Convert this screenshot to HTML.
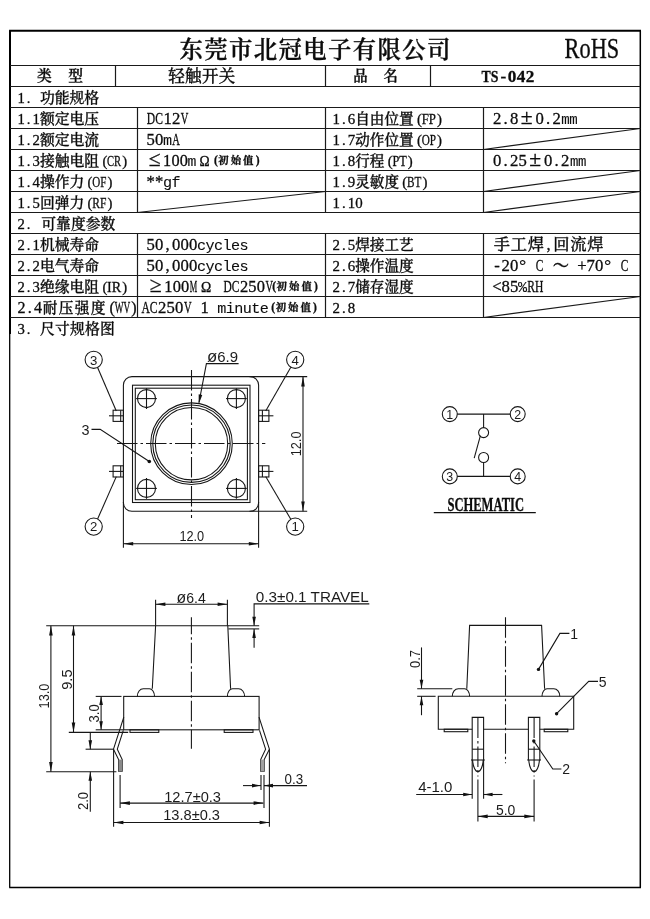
<!DOCTYPE html>
<html lang="zh-CN">
<head>
<meta charset="utf-8">
<title>TS-042 轻触开关 规格书</title>
<style>
html,body{margin:0;padding:0;background:#fff;}
body{width:650px;height:919px;overflow:hidden;font-family:"Liberation Serif","Noto Serif CJK SC",serif;}
svg{display:block;position:absolute;left:0;top:0;will-change:transform;}
text{fill:#0c0c0c;stroke:#0c0c0c;stroke-width:0.3px;font-family:"Liberation Serif","Noto Serif CJK SC",serif;}
.c{font-family:"Liberation Serif","Noto Serif CJK SC","Noto Serif CJK JP",serif;font-weight:500;}
.s{font-family:"Liberation Serif","Noto Serif CJK SC",serif;}
.m{font-family:"Liberation Mono","Noto Serif CJK SC",monospace;stroke-width:0.1px;}
.d{font-family:"Liberation Sans","Noto Sans CJK SC",sans-serif;fill:#1c1c1c;stroke:none;}
</style>
</head>
<body>
<svg width="650" height="919" viewBox="0 0 650 919">
<g stroke="#1a1a1a" stroke-width="1.2" fill="none">
<line x1="9.1" y1="30.8" x2="641" y2="30.8" stroke-width="2.1" stroke="#000"/>
<line x1="9.2" y1="887.4" x2="641" y2="887.4" stroke-width="1.5" stroke="#000"/>
<line x1="640.3" y1="30.6" x2="640.3" y2="887.4" stroke-width="1.5" stroke="#000"/>
<line x1="10" y1="30.6" x2="10" y2="334" stroke-width="2" stroke="#000"/>
<line x1="9.7" y1="334" x2="9.7" y2="887.4" stroke-width="1.3" stroke="#000"/>
<line x1="10" y1="65.5" x2="640.3" y2="65.5"/>
<line x1="10" y1="86.5" x2="640.3" y2="86.5"/>
<line x1="10" y1="107.5" x2="640.3" y2="107.5"/>
<line x1="10" y1="128.5" x2="640.3" y2="128.5"/>
<line x1="10" y1="149.5" x2="640.3" y2="149.5"/>
<line x1="10" y1="170.5" x2="640.3" y2="170.5"/>
<line x1="10" y1="191.5" x2="640.3" y2="191.5"/>
<line x1="10" y1="212.5" x2="640.3" y2="212.5"/>
<line x1="10" y1="233.5" x2="640.3" y2="233.5"/>
<line x1="10" y1="254.5" x2="640.3" y2="254.5"/>
<line x1="10" y1="275.5" x2="640.3" y2="275.5"/>
<line x1="10" y1="296.5" x2="640.3" y2="296.5"/>
<line x1="10" y1="317.5" x2="640.3" y2="317.5"/>
<line x1="115.5" y1="65.5" x2="115.5" y2="86.5"/>
<line x1="325.5" y1="65.5" x2="325.5" y2="86.5"/>
<line x1="430.5" y1="65.5" x2="430.5" y2="86.5"/>
<line x1="137.5" y1="107.5" x2="137.5" y2="212.5"/>
<line x1="325.5" y1="107.5" x2="325.5" y2="212.5"/>
<line x1="483.5" y1="107.5" x2="483.5" y2="212.5"/>
<line x1="137.5" y1="233.5" x2="137.5" y2="317.5"/>
<line x1="325.5" y1="233.5" x2="325.5" y2="317.5"/>
<line x1="483.5" y1="233.5" x2="483.5" y2="317.5"/>
<line x1="137.5" y1="212.5" x2="325.5" y2="191.5"/>
<line x1="483.5" y1="149.5" x2="640.3" y2="128.5"/>
<line x1="483.5" y1="191.5" x2="640.3" y2="170.5"/>
<line x1="483.5" y1="212.5" x2="640.3" y2="191.5"/>
<line x1="483.5" y1="317.5" x2="640.3" y2="296.5"/>
</g>
<text y="57.5"><tspan class="c" font-size="23.4" x="179.58 204.33 229.08 253.83 278.57 303.32 328.07 352.82 377.57 402.32 427.07" style="font-weight:600">东莞市北冠电子有限公司</tspan></text>
<text class="s" x="564.6" y="58.4" font-size="28.4" textLength="54.6" lengthAdjust="spacingAndGlyphs">RoHS</text>
<text y="81.1"><tspan class="c" font-size="14.8" x="37.1" style="font-weight:600">类</tspan></text>
<text y="81.1"><tspan class="c" font-size="14.8" x="68.3" style="font-weight:600">型</tspan></text>
<text y="81.5"><tspan class="c" font-size="16.6" x="168.15 185.05 201.95 218.85">轻触开关</tspan></text>
<text y="81.1"><tspan class="c" font-size="14.4" x="353.3" style="font-weight:600">品</tspan></text>
<text y="81.1"><tspan class="c" font-size="14.4" x="383.6" style="font-weight:600">名</tspan></text>
<text y="81.8" font-weight="700"><tspan class="s" font-size="17.2" x="481.45" textLength="16.9" lengthAdjust="spacingAndGlyphs">TS</tspan><tspan class="s" font-size="17.2" x="500.39 507.85 516.75 525.65">-042</tspan></text>
<text y="102.7"><tspan class="s" font-size="14.7" x="17.47 26.81 34.31">1. </tspan><tspan class="c" font-size="14.8" x="39.9 54.7 69.5 84.3">功能规格</tspan></text>
<text y="123.7"><tspan class="s" font-size="14.7" x="17.47 26.81 32.48">1.1</tspan><tspan class="c" font-size="14.8" x="39.9 54.7 69.5 84.3">额定电压</tspan></text>
<text y="144.7"><tspan class="s" font-size="14.7" x="17.47 26.81 32.48">1.2</tspan><tspan class="c" font-size="14.8" x="39.9 54.7 69.5 84.3">额定电流</tspan></text>
<text y="165.7"><tspan class="s" font-size="14.7" x="17.47 26.81 32.48">1.3</tspan><tspan class="c" font-size="14.8" x="39.9 54.7 69.5 84.3">接触电阻</tspan><tspan class="s" font-size="14.7" x="102.4">(</tspan><tspan class="s" font-size="14.7" x="107.05" textLength="14.1" lengthAdjust="spacingAndGlyphs">CR</tspan><tspan class="s" font-size="14.7" x="122.2">)</tspan></text>
<text y="186.7"><tspan class="s" font-size="14.7" x="17.47 26.81 32.48">1.4</tspan><tspan class="c" font-size="14.8" x="39.9 54.7 69.5">操作力</tspan><tspan class="s" font-size="14.7" x="87.6">(</tspan><tspan class="s" font-size="14.7" x="92.25" textLength="14.1" lengthAdjust="spacingAndGlyphs">OF</tspan><tspan class="s" font-size="14.7" x="107.4">)</tspan></text>
<text y="207.7"><tspan class="s" font-size="14.7" x="17.47 26.81 32.48">1.5</tspan><tspan class="c" font-size="14.8" x="39.9 54.7 69.5">回弹力</tspan><tspan class="s" font-size="14.7" x="87.6">(</tspan><tspan class="s" font-size="14.7" x="92.25" textLength="14.1" lengthAdjust="spacingAndGlyphs">RF</tspan><tspan class="s" font-size="14.7" x="107.4">)</tspan></text>
<text y="228.7"><tspan class="s" font-size="14.7" x="17.47 26.81">2.</tspan></text>
<text y="228.7"><tspan class="c" font-size="14.8" x="41.3 56.1 70.9 85.7 100.5">可靠度参数</tspan></text>
<text y="249.7"><tspan class="s" font-size="14.7" x="17.47 26.81 32.48">2.1</tspan><tspan class="c" font-size="14.8" x="39.9 54.7 69.5 84.3">机械寿命</tspan></text>
<text y="270.7"><tspan class="s" font-size="14.7" x="17.47 26.81 32.48">2.2</tspan><tspan class="c" font-size="14.8" x="39.9 54.7 69.5 84.3">电气寿命</tspan></text>
<text y="291.7"><tspan class="s" font-size="14.7" x="17.47 26.81 32.48">2.3</tspan><tspan class="c" font-size="14.8" x="39.9 54.7 69.5 84.3">绝缘电阻</tspan><tspan class="s" font-size="14.7" x="102.4">(</tspan><tspan class="s" font-size="14.7" x="107.05" textLength="14.1" lengthAdjust="spacingAndGlyphs">IR</tspan><tspan class="s" font-size="14.7" x="122.2">)</tspan></text>
<text y="312.7"><tspan class="s" font-size="16.07" x="17.48 27.69 33.88">2.4</tspan><tspan class="c" font-size="14.7" x="42.65 58.65 74.65 90.65">耐压强度</tspan><tspan class="s" font-size="16.07" x="109.42">(</tspan><tspan class="s" font-size="16.07" x="114.65" textLength="15.5" lengthAdjust="spacingAndGlyphs">WV</tspan><tspan class="s" font-size="16.07" x="131.32">)</tspan></text>
<text y="333.7"><tspan class="s" font-size="14.7" x="17.47 26.81">3.</tspan></text>
<text y="333.7"><tspan class="c" font-size="14.8" x="40.1 55.1 70.1 85.1 100.1">尺寸规格图</tspan></text>
<text y="124.1"><tspan class="s" font-size="16.66" x="146.85" textLength="16.1" lengthAdjust="spacingAndGlyphs">DC</tspan><tspan class="s" font-size="16.66" x="163.49 171.99">12</tspan><tspan class="s" font-size="16.66" x="180.85" textLength="7.6" lengthAdjust="spacingAndGlyphs">V</tspan></text>
<text y="145.1"><tspan class="s" font-size="16.66" x="146.49 154.99">50</tspan><tspan class="m" font-size="15.13" x="163.11">m</tspan><tspan class="s" font-size="16.66" x="172.35" textLength="7.6" lengthAdjust="spacingAndGlyphs">A</tspan></text>
<text y="166.1"><tspan class="s" font-size="21.58" x="148.78">≤</tspan><tspan class="s" font-size="16.27" x="163.08 171.38 179.68">100</tspan><tspan class="m" font-size="14.77" x="187.62">m</tspan><tspan class="s" font-size="13.61" x="199.44">Ω</tspan></text>
<text y="164.3" font-weight="700" font-size="10.4"><tspan class="s" font-size="11.5" x="213.9">(</tspan><tspan class="c" style="font-weight:700" x="218.3 230.7 243.1">初始值</tspan><tspan class="s" font-size="11.5" x="255.7">)</tspan></text>
<text y="187.1"><tspan class="s" font-size="16.66" x="146.49 154.99">**</tspan><tspan class="m" font-size="15.13" x="163.11 171.61">gf</tspan></text>
<text y="250.1"><tspan class="s" font-size="16.66" x="146.49 154.99 165.57 171.99 180.49 188.99">50,000</tspan><tspan class="m" font-size="15.13" x="197.11 205.61 214.11 222.61 231.11 239.61">cycles</tspan></text>
<text y="271.1"><tspan class="s" font-size="16.66" x="146.49 154.99 165.57 171.99 180.49 188.99">50,000</tspan><tspan class="m" font-size="15.13" x="197.11 205.61 214.11 222.61 231.11 239.61">cycles</tspan></text>
<text y="292.1"><tspan class="s" font-size="21.84" x="149.8">≥</tspan><tspan class="s" font-size="16.46" x="164.28 172.68 181.08">100</tspan><tspan class="s" font-size="16.46" x="189.85" textLength="7.5" lengthAdjust="spacingAndGlyphs">M</tspan><tspan class="s" font-size="13.78" x="201.08">Ω</tspan></text>
<text y="292.1"><tspan class="s" font-size="16.46" x="223.45" textLength="15.9" lengthAdjust="spacingAndGlyphs">DC</tspan><tspan class="s" font-size="16.46" x="239.88 248.28 256.68">250</tspan><tspan class="s" font-size="16.46" x="265.45" textLength="7.5" lengthAdjust="spacingAndGlyphs">V</tspan></text>
<text y="290.3" font-weight="700" font-size="10.4"><tspan class="s" font-size="11.5" x="272.2">(</tspan><tspan class="c" style="font-weight:700" x="276.6 289 301.4">初始值</tspan><tspan class="s" font-size="11.5" x="314">)</tspan></text>
<text y="313.1"><tspan class="s" font-size="16.66" x="141.45" textLength="16.1" lengthAdjust="spacingAndGlyphs">AC</tspan><tspan class="s" font-size="16.66" x="158.09 166.59 175.09">250</tspan><tspan class="s" font-size="16.66" x="183.95" textLength="7.6" lengthAdjust="spacingAndGlyphs">V</tspan><tspan class="s" font-size="16.66" x="194.17 200.59 211.17"> 1 </tspan><tspan class="m" font-size="15.13" x="217.21 225.71 234.21 242.71 251.21 259.71">minute</tspan></text>
<text y="311.3" font-weight="700" font-size="10.4"><tspan class="s" font-size="11.5" x="271.3">(</tspan><tspan class="c" style="font-weight:700" x="275.7 288.1 300.5">初始值</tspan><tspan class="s" font-size="11.5" x="313.1">)</tspan></text>
<text y="123.7"><tspan class="s" font-size="14.9" x="332.48 341.94 347.68">1.6</tspan><tspan class="c" font-size="14.6" x="355.2 369.8 384.4 399">自由位置</tspan><tspan class="s" font-size="14.9" x="416.92">(</tspan><tspan class="s" font-size="14.9" x="421.65" textLength="14.3" lengthAdjust="spacingAndGlyphs">FP</tspan><tspan class="s" font-size="14.9" x="437.02">)</tspan></text>
<text y="144.7"><tspan class="s" font-size="14.9" x="332.48 341.94 347.68">1.7</tspan><tspan class="c" font-size="14.6" x="355.2 369.8 384.4 399">动作位置</tspan><tspan class="s" font-size="14.9" x="416.92">(</tspan><tspan class="s" font-size="14.9" x="421.65" textLength="14.3" lengthAdjust="spacingAndGlyphs">OP</tspan><tspan class="s" font-size="14.9" x="437.02">)</tspan></text>
<text y="165.7"><tspan class="s" font-size="14.9" x="332.48 341.94 347.68">1.8</tspan><tspan class="c" font-size="14.6" x="355.2 369.8">行程</tspan><tspan class="s" font-size="14.9" x="387.72">(</tspan><tspan class="s" font-size="14.9" x="392.45" textLength="14.3" lengthAdjust="spacingAndGlyphs">PT</tspan><tspan class="s" font-size="14.9" x="407.82">)</tspan></text>
<text y="186.7"><tspan class="s" font-size="14.9" x="332.48 341.94 347.68">1.9</tspan><tspan class="c" font-size="14.6" x="355.2 369.8 384.4">灵敏度</tspan><tspan class="s" font-size="14.9" x="402.32">(</tspan><tspan class="s" font-size="14.9" x="407.05" textLength="14.3" lengthAdjust="spacingAndGlyphs">BT</tspan><tspan class="s" font-size="14.9" x="422.42">)</tspan></text>
<text y="207.7"><tspan class="s" font-size="14.9" x="332.48 341.94 347.68 355.28">1.10</tspan></text>
<text y="249.7"><tspan class="s" font-size="14.9" x="332.48 341.94 347.68">2.5</tspan><tspan class="c" font-size="14.6" x="355.2 369.8 384.4 399">焊接工艺</tspan></text>
<text y="270.7"><tspan class="s" font-size="14.9" x="332.48 341.94 347.68">2.6</tspan><tspan class="c" font-size="14.6" x="355.2 369.8 384.4 399">操作温度</tspan></text>
<text y="291.7"><tspan class="s" font-size="14.9" x="332.48 341.94 347.68">2.7</tspan><tspan class="c" font-size="14.6" x="355.2 369.8 384.4 399">储存湿度</tspan></text>
<text y="312.7"><tspan class="s" font-size="14.9" x="332.48 341.94 347.68">2.8</tspan></text>
<text y="124.1"><tspan class="s" font-size="16.66" x="492.88 503.47 509.88">2.8</tspan><tspan class="s" font-size="21.59" x="520.87">±</tspan><tspan class="s" font-size="16.66" x="535.38 545.97 552.38">0.2</tspan></text>
<text y="124.1"><tspan class="m" font-size="14" x="561.35 569.25">mm</tspan></text>
<text y="166.1"><tspan class="s" font-size="16.66" x="492.88 503.47 509.88 518.38">0.25</tspan><tspan class="s" font-size="21.59" x="529.37">±</tspan><tspan class="s" font-size="16.66" x="543.88 554.47 560.88">0.2</tspan></text>
<text y="166.1"><tspan class="m" font-size="14" x="570.05 577.95">mm</tspan></text>
<text y="250.1"><tspan class="c" font-size="16.3" x="493.75 510.75 527.75">手工焊</tspan><tspan class="s" font-size="16.66" x="546.57">,</tspan><tspan class="c" font-size="16.3" x="553.25 570.25 587.25">回流焊</tspan></text>
<text y="271.1"><tspan class="s" font-size="16.66" x="494.28 501.38 509.88">-20</tspan><tspan class="s" font-size="17" x="519.32">°</tspan><tspan class="s" font-size="16.66" x="535.75" textLength="7.6" lengthAdjust="spacingAndGlyphs">C</tspan><tspan class="c" font-size="16.3" x="552.65">～</tspan><tspan class="s" font-size="16.66" x="571.47 577.35 586.38 594.88"> +70</tspan><tspan class="s" font-size="17" x="604.32">°</tspan><tspan class="s" font-size="16.66" x="620.75" textLength="7.6" lengthAdjust="spacingAndGlyphs">C</tspan></text>
<text y="292.1"><tspan class="s" font-size="16.66" x="492.35 501.38 509.88">&lt;85</tspan><tspan class="m" font-size="15.13" x="518.01">%</tspan><tspan class="s" font-size="16.66" x="527.25" textLength="16.1" lengthAdjust="spacingAndGlyphs">RH</tspan></text>
<g stroke="#161616" stroke-width="1.08" fill="none">
<rect x="123.4" y="376.6" width="135.2" height="134.7" rx="8.5" ry="8.5"/>
<rect x="132.5" y="385.2" width="117.5" height="117.3"/>
<rect x="135.3" y="388.2" width="112.1" height="111.5"/>
<circle cx="191.5" cy="443.7" r="40.8" fill="none"/>
<circle cx="191.5" cy="443.7" r="38.7" fill="none"/>
<circle cx="191.5" cy="443.7" r="36.2" fill="none"/>
<circle cx="146.5" cy="398.6" r="9" fill="none"/>
<line x1="136.1" y1="398.6" x2="156.9" y2="398.6"/>
<line x1="146.5" y1="388.2" x2="146.5" y2="409"/>
<circle cx="236.4" cy="398.6" r="9" fill="none"/>
<line x1="226" y1="398.6" x2="246.8" y2="398.6"/>
<line x1="236.4" y1="388.2" x2="236.4" y2="409"/>
<circle cx="146.5" cy="488.4" r="9" fill="none"/>
<line x1="136.1" y1="488.4" x2="156.9" y2="488.4"/>
<line x1="146.5" y1="478" x2="146.5" y2="498.8"/>
<circle cx="236.4" cy="488.4" r="9" fill="none"/>
<line x1="226" y1="488.4" x2="246.8" y2="488.4"/>
<line x1="236.4" y1="478" x2="236.4" y2="498.8"/>
<line x1="191.5" y1="370" x2="191.5" y2="518" stroke-dasharray="20.5 3 2.5 3"/>
<line x1="117" y1="443.5" x2="265.3" y2="443.5" stroke-dasharray="20.5 3 2.5 3"/>
<rect x="113.1" y="410.2" width="10.3" height="11.2"/>
<line x1="120.7" y1="410.2" x2="120.7" y2="421.4"/>
<line x1="109" y1="415.8" x2="123.4" y2="415.8"/>
<rect x="258.6" y="410.2" width="10.3" height="11.2"/>
<line x1="262.4" y1="410.2" x2="262.4" y2="421.4"/>
<line x1="258.6" y1="415.8" x2="273.4" y2="415.8"/>
<rect x="113.1" y="465.8" width="10.3" height="11.2"/>
<line x1="120.7" y1="465.8" x2="120.7" y2="477"/>
<line x1="109" y1="471.4" x2="123.4" y2="471.4"/>
<rect x="258.6" y="465.8" width="10.3" height="11.2"/>
<line x1="262.4" y1="465.8" x2="262.4" y2="477"/>
<line x1="258.6" y1="471.4" x2="273.4" y2="471.4"/>
<circle cx="93.7" cy="359.8" r="8.6" fill="none"/>
</g>
<text class="d" x="93.7" y="364.5" font-size="13.2" text-anchor="middle">3</text>
<g stroke="#161616" stroke-width="1.08" fill="none">
<circle cx="295.2" cy="359.8" r="8.6" fill="none"/>
</g>
<text class="d" x="295.2" y="364.5" font-size="13.2" text-anchor="middle">4</text>
<g stroke="#161616" stroke-width="1.08" fill="none">
<circle cx="93.7" cy="526.6" r="8.6" fill="none"/>
</g>
<text class="d" x="93.7" y="531.3" font-size="13.2" text-anchor="middle">2</text>
<g stroke="#161616" stroke-width="1.08" fill="none">
<circle cx="295.2" cy="526.6" r="8.6" fill="none"/>
</g>
<text class="d" x="295.2" y="531.3" font-size="13.2" text-anchor="middle">1</text>
<g stroke="#161616" stroke-width="1.08" fill="none">
<line x1="97.6" y1="367.5" x2="116.3" y2="411"/>
<line x1="290.8" y1="367.2" x2="265.7" y2="411"/>
<line x1="97.6" y1="519" x2="116.3" y2="476.6"/>
<line x1="290.8" y1="519.2" x2="265.7" y2="476.6"/>
<path d="M91.5 429.4 L100.2 429.4 L149.3 461.5" fill="none"/>
<circle cx="149.3" cy="461.5" r="1.8" fill="#111" stroke="none"/>
<path d="M238.6 363.6 L206.4 363.6 L199 402.5" fill="none"/>
<path d="M198.7 404.2 L198.72 394.24 L202.26 394.89 Z" fill="#111" stroke="none"/>
<line x1="123.4" y1="502" x2="123.4" y2="547.8"/>
<line x1="258.6" y1="502" x2="258.6" y2="547.8"/>
<line x1="123.4" y1="543.8" x2="258.6" y2="543.8"/>
<path d="M123.4 543.8 L133.2 542 L133.2 545.6 Z" fill="#111" stroke="none"/>
<path d="M258.6 543.8 L248.8 545.6 L248.8 542 Z" fill="#111" stroke="none"/>
<line x1="249.5" y1="376.6" x2="307.2" y2="376.6"/>
<line x1="249.5" y1="511.3" x2="307.2" y2="511.3"/>
<line x1="303" y1="376.6" x2="303" y2="511.2"/>
<path d="M303 376.6 L304.8 386.4 L301.2 386.4 Z" fill="#111" stroke="none"/>
<path d="M303 511.2 L301.2 501.4 L304.8 501.4 Z" fill="#111" stroke="none"/>
<circle cx="449.8" cy="414.1" r="7.5" fill="none"/>
<circle cx="517.7" cy="414.1" r="7.5" fill="none"/>
<circle cx="449.8" cy="476.4" r="7.5" fill="none"/>
<circle cx="517.7" cy="476.4" r="7.5" fill="none"/>
<line x1="457.3" y1="414.1" x2="510.2" y2="414.1"/>
<line x1="457.3" y1="476.4" x2="510.2" y2="476.4"/>
<line x1="483.6" y1="414.1" x2="483.6" y2="427.6"/>
<line x1="483.6" y1="462.5" x2="483.6" y2="476.4"/>
<circle cx="483.6" cy="432.6" r="5" fill="none"/>
<circle cx="483.6" cy="457.5" r="5" fill="none"/>
<line x1="480.4" y1="435.6" x2="474.2" y2="458.2"/>
<line x1="433.8" y1="512.6" x2="535.8" y2="512.6" stroke-width="1.1" stroke="#111"/>
<path d="M152.3 688.8 L155.6 625.7 L227.8 625.7 L230.6 688.8" fill="none"/>
<line x1="46.2" y1="625.7" x2="155.6" y2="625.7"/>
<line x1="227.8" y1="625.7" x2="259.2" y2="625.7"/>
<line x1="228.4" y1="628.9" x2="259.2" y2="628.9"/>
<path d="M137.3 696.4 A6 7.6 0 0 1 143.3 688.8 L149.4 688.8 A5.1 7.6 0 0 1 154.5 696.4" fill="none"/>
<path d="M244.6 696.4 A6 7.6 0 0 0 238.6 688.8 L232.5 688.8 A5.1 7.6 0 0 0 227.4 696.4" fill="none"/>
<rect x="123.7" y="696.4" width="135.4" height="33.4"/>
<rect x="130" y="729.8" width="28.8" height="2.6"/>
<rect x="224.2" y="729.8" width="28.8" height="2.6"/>
<path d="M123.8 717.2 L113.5 749.2 L118.6 759.6 L118.6 771.3 L122.2 771.3 L122.2 759.6 L117.3 749.2 L123.3 730.4" fill="none"/>
<path d="M259 717.2 L269.4 749.2 L264.2 759.6 L264.2 771.3 L260.7 771.3 L260.7 759.6 L265.6 749.2 L259.5 730.4" fill="none"/>
<rect x="118.6" y="759.6" width="3.6" height="11.7" fill="#8a8a8a" stroke="none"/>
<rect x="260.7" y="759.6" width="3.5" height="11.7" fill="#a0a0a0" stroke="none"/>
<line x1="191.4" y1="617.3" x2="191.4" y2="748.7" stroke-dasharray="20.5 3 2.5 3" stroke-dashoffset="3.6"/>
<line x1="155.6" y1="599.8" x2="155.6" y2="625.7"/>
<line x1="227.4" y1="599.8" x2="227.4" y2="625.7"/>
<line x1="155.6" y1="604.3" x2="227.4" y2="604.3"/>
<path d="M155.6 604.3 L165.4 602.5 L165.4 606.1 Z" fill="#111" stroke="none"/>
<path d="M227.4 604.3 L217.6 606.1 L217.6 602.5 Z" fill="#111" stroke="none"/>
<line x1="50.9" y1="625.7" x2="50.9" y2="771.8"/>
<path d="M50.9 625.7 L52.7 635.5 L49.1 635.5 Z" fill="#111" stroke="none"/>
<path d="M50.9 771.8 L49.1 762 L52.7 762 Z" fill="#111" stroke="none"/>
<line x1="46.2" y1="771.8" x2="116.4" y2="771.8"/>
<line x1="73.5" y1="625.7" x2="73.5" y2="732.4"/>
<path d="M73.5 625.7 L75.3 635.5 L71.7 635.5 Z" fill="#111" stroke="none"/>
<path d="M73.5 732.4 L71.7 722.6 L75.3 722.6 Z" fill="#111" stroke="none"/>
<line x1="68.8" y1="732.4" x2="128.2" y2="732.4"/>
<line x1="101.1" y1="696.4" x2="101.1" y2="729.8"/>
<path d="M101.1 696.4 L102.9 704.9 L99.3 704.9 Z" fill="#111" stroke="none"/>
<path d="M101.1 729.8 L99.3 721.3 L102.9 721.3 Z" fill="#111" stroke="none"/>
<line x1="95.7" y1="696.4" x2="121.5" y2="696.4"/>
<line x1="95.7" y1="729.8" x2="123.7" y2="729.8"/>
<line x1="90.3" y1="732.4" x2="90.3" y2="749.2"/>
<path d="M90.3 749.2 L88.5 740.2 L92.1 740.2 Z" fill="#111" stroke="none"/>
<line x1="85.6" y1="749.2" x2="113.2" y2="749.2"/>
<line x1="90.3" y1="771.8" x2="90.3" y2="811.8"/>
<path d="M90.3 771.8 L92.1 780.8 L88.5 780.8 Z" fill="#111" stroke="none"/>
<line x1="120.1" y1="775" x2="120.1" y2="808"/>
<line x1="264" y1="790" x2="264" y2="808"/>
<line x1="120.1" y1="803.1" x2="263.4" y2="803.1"/>
<path d="M120.1 803.1 L129.9 801.3 L129.9 804.9 Z" fill="#111" stroke="none"/>
<path d="M263.4 803.1 L253.6 804.9 L253.6 801.3 Z" fill="#111" stroke="none"/>
<line x1="113.6" y1="749.2" x2="113.6" y2="826.8"/>
<line x1="269.4" y1="749.2" x2="269.4" y2="826.8"/>
<line x1="113.6" y1="822.5" x2="269.4" y2="822.5"/>
<path d="M113.6 822.5 L123.4 820.7 L123.4 824.3 Z" fill="#111" stroke="none"/>
<path d="M269.4 822.5 L259.6 824.3 L259.6 820.7 Z" fill="#111" stroke="none"/>
<line x1="261" y1="775" x2="261" y2="790"/>
<line x1="264" y1="775" x2="264" y2="790"/>
<line x1="243" y1="785.6" x2="261" y2="785.6"/>
<path d="M261 785.6 L252 787.4 L252 783.8 Z" fill="#111" stroke="none"/>
<line x1="264" y1="785.6" x2="307" y2="785.6"/>
<path d="M264 785.6 L273 783.8 L273 787.4 Z" fill="#111" stroke="none"/>
<path d="M369.3 603.9 L254.1 603.9 L254.1 625.7" fill="none"/>
<path d="M254.1 625.7 L252.3 616.7 L255.9 616.7 Z" fill="#111" stroke="none"/>
<line x1="254.1" y1="628.9" x2="254.1" y2="647.8"/>
<path d="M254.1 628.9 L255.9 637.9 L252.3 637.9 Z" fill="#111" stroke="none"/>
<path d="M466.8 688.7 L469.6 625.4 L541.6 625.4 L544.6 688.7" fill="none"/>
<path d="M452.3 696.3 A6 7.6 0 0 1 458.3 688.7 L464.5 688.7 A5.1 7.6 0 0 1 469.6 696.3" fill="none"/>
<path d="M559.8 696.3 A6 7.6 0 0 0 553.8 688.7 L547.1 688.7 A5.1 7.6 0 0 0 542 696.3" fill="none"/>
<path d="M472.2 729.2 L438.3 729.2 L438.3 696.3 L573.7 696.3 L573.7 729.2 L539.8 729.2" fill="none"/>
<line x1="483.6" y1="729.2" x2="528.4" y2="729.2"/>
<rect x="444.2" y="729.2" width="23.6" height="2.5"/>
<rect x="544.2" y="729.2" width="23.6" height="2.5"/>
<path d="M472.2 760 L472.2 717.4 L483.6 717.4 L483.6 760" fill="none"/>
<line x1="472.2" y1="749.2" x2="483.6" y2="749.2"/>
<line x1="471" y1="760" x2="484.8" y2="760"/>
<path d="M472.6 760 C473 767 475.5 771.8 477.9 771.8 C480.3 771.8 482.8 767 483.2 760" fill="none"/>
<line x1="477.9" y1="717.4" x2="477.9" y2="776.5" stroke-dasharray="20.5 3 2.5 3"/>
<line x1="477.9" y1="779.5" x2="477.9" y2="821.4"/>
<path d="M528.4 760 L528.4 717.4 L539.8 717.4 L539.8 760" fill="none"/>
<line x1="528.4" y1="749.2" x2="539.8" y2="749.2"/>
<line x1="527.2" y1="760" x2="541" y2="760"/>
<path d="M528.8 760 C529.2 767 531.7 771.8 534.1 771.8 C536.5 771.8 539 767 539.4 760" fill="none"/>
<line x1="534.1" y1="717.4" x2="534.1" y2="776.5" stroke-dasharray="20.5 3 2.5 3"/>
<line x1="534.1" y1="779.5" x2="534.1" y2="821.4"/>
<line x1="505.5" y1="617.2" x2="505.5" y2="763.2" stroke-dasharray="20.5 3 2.5 3"/>
<line x1="417.2" y1="688.7" x2="452.3" y2="688.7"/>
<line x1="417.2" y1="696.3" x2="435.6" y2="696.3"/>
<line x1="421.5" y1="647.4" x2="421.5" y2="688.7"/>
<path d="M421.5 688.7 L419.7 679.7 L423.3 679.7 Z" fill="#111" stroke="none"/>
<line x1="421.5" y1="696.3" x2="421.5" y2="715.2"/>
<path d="M421.5 696.3 L423.3 705.3 L419.7 705.3 Z" fill="#111" stroke="none"/>
<path d="M538.5 669.4 L559.9 633.4 L569.4 633.4" fill="none"/>
<circle cx="538.5" cy="669.4" r="1.7" fill="#111" stroke="none"/>
<path d="M556.6 713.7 L588.7 681.4 L598 681.4" fill="none"/>
<circle cx="556.6" cy="713.7" r="1.7" fill="#111" stroke="none"/>
<path d="M533.8 741 L552.8 769 L561.4 769" fill="none"/>
<circle cx="533.8" cy="741" r="1.7" fill="#111" stroke="none"/>
<line x1="472.2" y1="760" x2="472.2" y2="798.8"/>
<line x1="483.6" y1="760" x2="483.6" y2="798.8"/>
<line x1="416.2" y1="794.5" x2="472.2" y2="794.5"/>
<path d="M472.2 794.5 L463.2 796.3 L463.2 792.7 Z" fill="#111" stroke="none"/>
<line x1="483.6" y1="794.5" x2="502.4" y2="794.5"/>
<path d="M483.6 794.5 L492.6 792.7 L492.6 796.3 Z" fill="#111" stroke="none"/>
<line x1="477.9" y1="816.4" x2="534.1" y2="816.4"/>
<path d="M477.9 816.4 L487.7 814.6 L487.7 818.2 Z" fill="#111" stroke="none"/>
<path d="M534.1 816.4 L524.3 818.2 L524.3 814.6 Z" fill="#111" stroke="none"/>
</g>
<text class="d" x="85.6" y="434.9" font-size="14.4" text-anchor="middle">3</text>
<text class="d" x="207.0" y="361.9" font-size="14.3" textLength="31" lengthAdjust="spacingAndGlyphs"><tspan font-size="16">ø</tspan>6.9</text>
<text class="d" x="191.8" y="541.4" font-size="14.3" text-anchor="middle" textLength="24.8" lengthAdjust="spacingAndGlyphs">12.0</text>
<text class="d" x="300.6" y="443.9" font-size="14.3" text-anchor="middle" transform="rotate(-90 300.6 443.9)" textLength="24.8" lengthAdjust="spacingAndGlyphs">12.0</text>
<text class="d" x="449.8" y="418.5" font-size="12.4" text-anchor="middle">1</text>
<text class="d" x="517.7" y="418.5" font-size="12.4" text-anchor="middle">2</text>
<text class="d" x="449.8" y="480.8" font-size="12.4" text-anchor="middle">3</text>
<text class="d" x="517.7" y="480.8" font-size="12.4" text-anchor="middle">4</text>
<text x="447.4" y="510.8" font-size="17.8" font-weight="700" class="s" textLength="76.6" lengthAdjust="spacingAndGlyphs">SCHEMATIC</text>
<text class="d" x="176.6" y="602.7" font-size="14.3" textLength="29.2" lengthAdjust="spacingAndGlyphs"><tspan font-size="16">ø</tspan>6.4</text>
<text class="d" x="255.8" y="602.1" font-size="14.3" textLength="113" lengthAdjust="spacingAndGlyphs">0.3±0.1  TRAVEL</text>
<text class="d" x="49" y="696" font-size="14.3" text-anchor="middle" transform="rotate(-90 49 696)" textLength="24.8" lengthAdjust="spacingAndGlyphs">13.0</text>
<text class="d" x="72" y="679.6" font-size="14.3" text-anchor="middle" transform="rotate(-90 72 679.6)" textLength="20.2" lengthAdjust="spacingAndGlyphs">9.5</text>
<text class="d" x="98.9" y="713.4" font-size="14.3" text-anchor="middle" transform="rotate(-90 98.9 713.4)" textLength="18" lengthAdjust="spacingAndGlyphs">3.0</text>
<text class="d" x="88" y="801" font-size="14.3" text-anchor="middle" transform="rotate(-90 88 801)" textLength="18" lengthAdjust="spacingAndGlyphs">2.0</text>
<text class="d" x="192.6" y="801.6" font-size="14.3" text-anchor="middle" textLength="56.8" lengthAdjust="spacingAndGlyphs">12.7±0.3</text>
<text class="d" x="191.6" y="820.4" font-size="14.3" text-anchor="middle" textLength="56.8" lengthAdjust="spacingAndGlyphs">13.8±0.3</text>
<text class="d" x="284.6" y="783.8" font-size="14.3" textLength="18.6" lengthAdjust="spacingAndGlyphs">0.3</text>
<text class="d" x="420.4" y="659" font-size="14.3" text-anchor="middle" transform="rotate(-90 420.4 659)" textLength="18" lengthAdjust="spacingAndGlyphs">0.7</text>
<text class="d" x="570.2" y="639.3" font-size="14">1</text>
<text class="d" x="598.8" y="686.7" font-size="14">5</text>
<text class="d" x="562.3" y="774.1" font-size="14">2</text>
<text class="d" x="418.2" y="792.4" font-size="14.3" textLength="34.2" lengthAdjust="spacingAndGlyphs">4-1.0</text>
<text class="d" x="505.6" y="815" font-size="14.3" text-anchor="middle" textLength="19.4" lengthAdjust="spacingAndGlyphs">5.0</text>
</svg>
</body>
</html>
